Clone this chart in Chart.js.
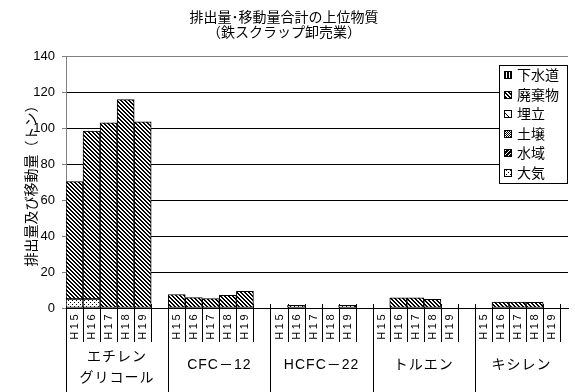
<!DOCTYPE html>
<html lang="ja">
<head>
<meta charset="utf-8">
<title>排出量・移動量合計の上位物質</title>
<script src="https://cdn.jsdelivr.net/npm/chart.js@4.4.1/dist/chart.umd.min.js"></script>
<style>
  html, body { margin: 0; padding: 0; background: #fff; }
  #chart { display: block; }
</style>
</head>
<body>
<canvas id="chart" width="575" height="392"></canvas>
<script>
// --- data -------------------------------------------------------------
const years = ['H15', 'H16', 'H17', 'H18', 'H19'];
const substances = [['エチレン', 'グリコール'], ['CFC－12'], ['HCFC－22'], ['トルエン'], ['キシレン']];
const yTicks = [0, 20, 40, 60, 80, 100, 120, 140];

// 5 values (H15..H19) for each substance, same order as substances
const taikiValues    = [5, 5, 0, 0, 0,   0, 0, 0, 0, 0,   0, 1.5, 0, 0, 1.5,   0, 0, 0, 0, 0,   0, 0, 0, 0, 0];
const suiikiValues   = [0, 0, 0, 0, 0,   0, 0, 0, 0, 0,   0, 0, 0, 0, 0,   0, 0, 0, 0, 0,   0, 0, 0, 0, 0];
const dojoValues     = [0, 0, 0, 0, 0,   0, 0, 0, 0, 0,   0, 0, 0, 0, 0,   0, 0, 0, 0, 0,   0, 0, 0, 0, 0];
const umetateValues  = [0, 0, 0, 0, 0,   0, 0, 0, 0, 0,   0, 0, 0, 0, 0,   0, 0, 0, 0, 0,   0, 0, 0, 0, 0];
const haikiValues    = [65.4, 93.6, 103.2, 116.1, 103.7,   7.5, 5.8, 5.2, 7, 9.3,   0, 0, 0, 0, 0,   0, 5.6, 5.6, 4.8, 0,   0, 3.3, 3.3, 3.2, 0];
const gesuidoValues  = [0, 0, 0, 0, 0,   0, 0, 0, 0, 0,   0, 0, 0, 0, 0,   0, 0, 0, 0, 0,   0, 0, 0, 0, 0];

const FONT = "'Liberation Sans', 'Noto Sans CJK JP', sans-serif";
const SLOT_SPAN = 6;      // 5 years + one empty slot between substances
const X_MAX = 28.96;      // the plot ends a bit after the last bar

const canvas = document.getElementById('chart');
const mainCtx = canvas.getContext('2d');

// black & white fill patterns like the original
function makePattern(size, ink) {
    const c = document.createElement('canvas');
    c.width = size; c.height = size;
    const g = c.getContext('2d');
    g.fillStyle = '#fff';
    g.fillRect(0, 0, size, size);
    g.fillStyle = '#000';
    for (let y = 0; y < size; y++) {
        for (let x = 0; x < size; x++) {
            if (ink(x, y)) g.fillRect(x, y, 1, 1);
        }
    }
    return mainCtx.createPattern(c, 'repeat');
}

const patterns = {
    taiki: makePattern(4, (x, y) => (x === 0 && y === 0) || (x === 2 && y === 2)),
    suiiki: makePattern(4, (x, y) => (x + y) % 4 !== 3),
    dojo: makePattern(2, (x, y) => x === y),
    umetate: makePattern(8, (x, y) => (x - y + 8) % 8 === 0),
    haiki: makePattern(4, (x, y) => ((x - y + 8) % 4) < 2),
    gesuido: makePattern(3, (x) => x < 2)
};

function toPoints(values) {
    return values.map((v, i) => ({
        x: Math.floor(i / 5) * SLOT_SPAN + (i % 5),
        y: v || null
    }));
}

// stacking order: bottom first
const series = [
    { label: '大気', values: taikiValues, fill: patterns.taiki },
    { label: '水域', values: suiikiValues, fill: patterns.suiiki },
    { label: '土壌', values: dojoValues, fill: patterns.dojo },
    { label: '埋立', values: umetateValues, fill: patterns.umetate },
    { label: '廃棄物', values: haikiValues, fill: patterns.haiki },
    { label: '下水道', values: gesuidoValues, fill: patterns.gesuido }
];

// two-level x axis labels + separators
const groupAxis = {
    id: 'groupAxis',
    beforeDatasetsDraw(chart) {
        const { ctx, chartArea } = chart;
        const xs = chart.scales.x;
        const bottom = chartArea.bottom;
        ctx.save();
        ctx.strokeStyle = '#000';
        ctx.lineWidth = 1;
        const slots = substances.length * SLOT_SPAN - 1;
        for (let i = 0; i <= slots; i++) {
            const px = Math.round(xs.getPixelForValue(i - 0.5)) + 0.5;
            const isGroupStart = i % SLOT_SPAN === 0 && i < slots;
            ctx.beginPath();
            ctx.moveTo(px, bottom - 4);
            ctx.lineTo(px, isGroupStart ? chart.height : bottom + 34);
            ctx.stroke();
        }
        ctx.restore();
    },
    afterDraw(chart) {
        const { ctx, chartArea } = chart;
        const xs = chart.scales.x;
        const bottom = chartArea.bottom;
        ctx.save();
        ctx.fillStyle = '#000';

        // year labels, rotated
        ctx.font = '11px ' + FONT;
        ctx.letterSpacing = '2.5px';
        ctx.textAlign = 'right';
        ctx.textBaseline = 'middle';
        substances.forEach((_, s) => {
            years.forEach((yr, k) => {
                const px = xs.getPixelForValue(s * SLOT_SPAN + k);
                ctx.save();
                ctx.translate(px + 0.5, bottom + 4);
                ctx.rotate(-Math.PI / 2);
                ctx.fillText(yr, 0, 0);
                ctx.restore();
            });
        });

        // substance labels
        ctx.font = '14px ' + FONT;
        ctx.letterSpacing = '1px';
        ctx.textAlign = 'center';
        substances.forEach((lines, s) => {
            const left = xs.getPixelForValue(s * SLOT_SPAN - 0.5);
            const right = Math.min(xs.getPixelForValue(s * SLOT_SPAN + 5.5), chartArea.right);
            const cx = (left + right) / 2;
            if (lines.length === 1) {
                ctx.fillText(lines[0], cx, bottom + 57);
            } else {
                ctx.fillText(lines[0], cx, bottom + 49);
                ctx.fillText(lines[1], cx, bottom + 70);
            }
        });
        ctx.letterSpacing = '0px';
        ctx.restore();
    }
};

// legend box inside the plot, top right
const legendBox = {
    id: 'legendBox',
    afterDraw(chart) {
        const { ctx, chartArea } = chart;
        const w = 68, h = 118;
        const x0 = Math.round(chartArea.right) - w - 1;
        const y0 = Math.round(chartArea.top) + 8;
        ctx.save();
        ctx.fillStyle = '#fff';
        ctx.fillRect(x0, y0, w, h);
        ctx.strokeStyle = '#000';
        ctx.lineWidth = 1;
        ctx.strokeRect(x0 + 0.5, y0 + 0.5, w, h);
        ctx.font = '14px ' + FONT;
        ctx.textAlign = 'left';
        ctx.textBaseline = 'middle';
        const items = chart.data.datasets.slice().reverse();
        items.forEach((ds, i) => {
            const cy = Math.round(y0 + 10 + i * 19.6);
            ctx.fillStyle = ds.backgroundColor;
            ctx.fillRect(x0 + 5, cy - 4, 8, 8);
            ctx.strokeRect(x0 + 5.5, cy - 3.5, 7, 7);
            ctx.fillStyle = '#000';
            ctx.fillText(ds.label, x0 + 18, cy + 1);
        });
        ctx.restore();
    }
};

new Chart(canvas, {
    type: 'bar',
    data: {
        datasets: series.map(s => ({
            label: s.label,
            data: toPoints(s.values),
            backgroundColor: s.fill,
            borderColor: '#000',
            borderWidth: 1,
            borderSkipped: false,
            barPercentage: 1,
            categoryPercentage: 1
        }))
    },
    options: {
        responsive: false,
        animation: false,
        devicePixelRatio: 1,
        layout: { padding: { left: 0, right: 7, top: 0, bottom: 0 } },
        plugins: {
            legend: { display: false },
            tooltip: { enabled: false },
            title: {
                display: true,
                text: ['排出量･移動量合計の上位物質', '（鉄スクラップ卸売業）'],
                color: '#000',
                font: { family: FONT, size: 14, weight: 'normal', lineHeight: 1.1 },
                padding: { top: 10, bottom: 16 }
            }
        },
        scales: {
            x: {
                type: 'linear',
                min: -0.5,
                max: X_MAX,
                offset: false,
                stacked: true,
                grid: { display: false, drawTicks: false, offset: false },
                border: { display: true, color: '#000' },
                ticks: { display: false },
                afterFit: (scale) => { scale.height = 84; }
            },
            y: {
                stacked: true,
                min: yTicks[0],
                max: yTicks[yTicks.length - 1],
                afterBuildTicks: (scale) => { scale.ticks = yTicks.map(v => ({ value: v })); },
                ticks: {
                    color: '#000',
                    padding: 7,
                    font: { family: FONT, size: 13 }
                },
                grid: {
                    color: (c) => c.tick && c.tick.value === 140 ? '#808080' : '#000',
                    tickColor: '#808080',
                    tickLength: 4
                },
                border: { color: '#808080' },
                title: {
                    display: true,
                    text: '排出量及び移動量（トン）',
                    color: '#000',
                    font: { family: FONT, size: 14 },
                    padding: { top: 24, bottom: 0 }
                },
                afterFit: (scale) => { scale.width = 66; }
            }
        }
    },
    plugins: [groupAxis, legendBox]
});
</script>
</body>
</html>
